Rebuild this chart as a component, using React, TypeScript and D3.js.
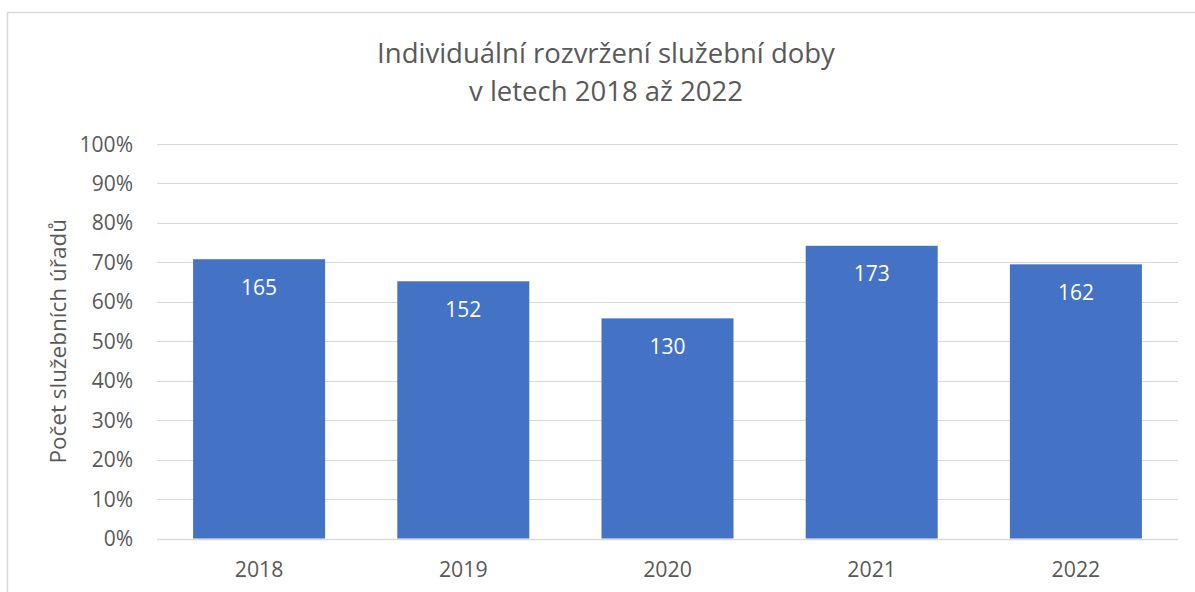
import React from "react";
import * as d3 from "d3";

const years = ["2018", "2019", "2020", "2021", "2022"];
const shares = [0.708, 0.652, 0.558, 0.742, 0.695];
const counts = [165, 152, 130, 173, 162];
const yTicks = [0, 0.1, 0.2, 0.3, 0.4, 0.5, 0.6, 0.7, 0.8, 0.9, 1.0];
const titleLines = ["Individuální rozvržení služební doby", "v letech 2018 až 2022"];
const yAxisTitle = "Počet služebních úřadů";

const W = 1195;
const H = 592;
const FONT = "'Open Sans', 'Noto Sans', sans-serif";
const TEXT = "#595959";
const GRID = "#d9d9d9";
const BAR = "#4472c4";

export default function App() {
  const plot = { left: 157, right: 1178, top: 144, bottom: 538.5 };
  const x = d3
    .scaleBand<string>()
    .domain(years)
    .range([plot.left, plot.right])
    .paddingInner(0.3536)
    .paddingOuter(0.1768);
  const y = d3.scaleLinear().domain([0, 1]).range([plot.bottom, plot.top]);
  const fmt = d3.format(".0%");

  return (
    <svg
      width={W}
      height={H}
      style={{ position: "absolute", left: 0, top: 0, background: "#fff" }}
      fontFamily={FONT}
    >
      <rect x={7.5} y={12.5} width={1200} height={600} fill="#fff" stroke={GRID} strokeWidth={1.5} />
      {titleLines.map((t, i) => (
        <text
          key={t}
          x={606}
          y={63 + i * 38}
          textAnchor="middle"
          fontSize={27.5}
          fill={TEXT}
        >
          {t}
        </text>
      ))}
      {yTicks.map((t) => (
        <g key={t}>
          <line
            x1={plot.left}
            x2={plot.right}
            y1={Math.round(y(t)) + 0.5}
            y2={Math.round(y(t)) + 0.5}
            stroke={GRID}
            strokeWidth={t === 0 ? 1.5 : 1.2}
          />
          <text
            x={133}
            y={y(t)}
            dy="0.36em"
            textAnchor="end"
            fontSize={21}
            fill={TEXT}
          >
            {fmt(t)}
          </text>
        </g>
      ))}
      {years.map((yr, i) => {
        const x0 = x(yr) as number;
        const bw = x.bandwidth();
        const top = y(shares[i]);
        return (
          <g key={yr}>
            <rect x={x0} y={top} width={bw} height={y(0) - top} fill={BAR} />
            <text
              x={x0 + bw / 2}
              y={top + 35.5}
              textAnchor="middle"
              fontSize={21}
              fill="#fff"
            >
              {counts[i]}
            </text>
            <text
              x={x0 + bw / 2}
              y={577}
              textAnchor="middle"
              fontSize={21.3}
              fill={TEXT}
            >
              {yr}
            </text>
          </g>
        );
      })}
      <text
        transform={`translate(66, ${(plot.top + plot.bottom) / 2}) rotate(-90)`}
        textAnchor="middle"
        fontSize={22.5}
        fill={TEXT}
      >
        {yAxisTitle}
      </text>
    </svg>
  );
}
